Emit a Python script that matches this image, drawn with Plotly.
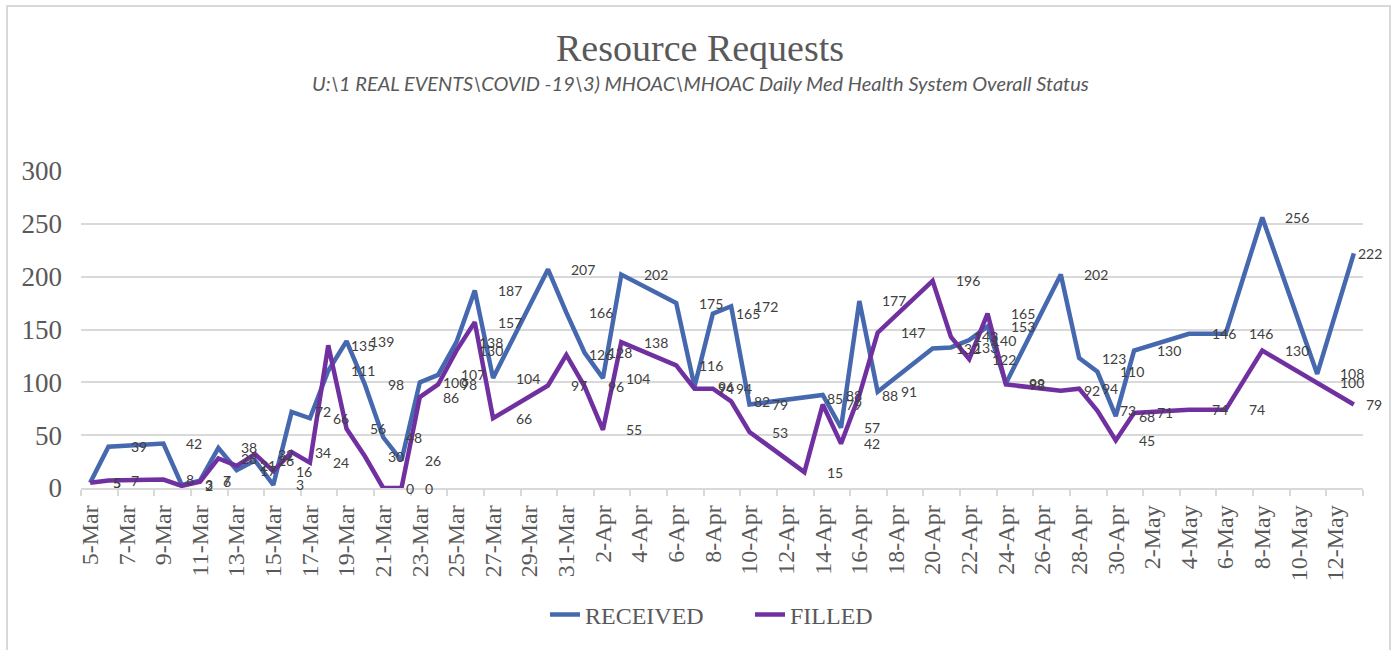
import plotly.graph_objects as go

# ---------------- data ----------------
dates = [
    "2020-03-05", "2020-03-06", "2020-03-09", "2020-03-10", "2020-03-11", "2020-03-12",
    "2020-03-13", "2020-03-14", "2020-03-15", "2020-03-16", "2020-03-17", "2020-03-18",
    "2020-03-19", "2020-03-20", "2020-03-21", "2020-03-22", "2020-03-23", "2020-03-24",
    "2020-03-25", "2020-03-26", "2020-03-27", "2020-03-30", "2020-03-31",
    "2020-04-01", "2020-04-02", "2020-04-03", "2020-04-06", "2020-04-07", "2020-04-08",
    "2020-04-09", "2020-04-10", "2020-04-13", "2020-04-14", "2020-04-15", "2020-04-16",
    "2020-04-17", "2020-04-20", "2020-04-21", "2020-04-22", "2020-04-23", "2020-04-24",
    "2020-04-27", "2020-04-28", "2020-04-29", "2020-04-30",
    "2020-05-01", "2020-05-04", "2020-05-06", "2020-05-08", "2020-05-11", "2020-05-13",
]
received = [
    5, 39, 42, 3, 7, 38, 17, 26, 3, 72, 66, 111, 139, 98, 48, 26, 100, 107, 138, 187, 104, 207, 166,
    128, 104, 202, 175, 96, 165, 172, 79, 85, 88, 57, 177, 91, 132, 133, 140, 153, 99, 202, 123, 110, 68,
    130, 146, 146, 256, 108, 222,
]
filled = [
    5, 7, 8, 2, 6, 28, 21, 32, 16, 34, 24, 135, 56, 30, 0, 0, 86, 98, 130, 157, 66, 97, 126,
    96, 55, 138, 116, 94, 94, 82, 53, 15, 79, 42, 88, 147, 196, 143, 122, 165, 98, 92, 94, 73, 45,
    71, 74, 74, 130, 100, 79,
]
series_names = ["RECEIVED", "FILLED"]
y_ticks = [0, 50, 100, 150, 200, 250, 300]

title_text = "Resource Requests"
subtitle_text = r"U:\1 REAL EVENTS\COVID -19\3) MHOAC\MHOAC Daily Med Health System Overall Status"

# ---------------- layout geometry (pixels) ----------------
W, H = 1395, 650
L, R = 81, 1363
T, B = 171, 488


def paper_x(px):
    return (px - L) / (R - L)


def paper_y(py):
    return (B - py) / (B - T)


BLUE = "#4668AE"
PURPLE = "#7030A0"
GRID = "#d9d9d9"
TXT = "#595959"
SERIF = "Liberation Serif, Times New Roman, serif"
SANS = "Lato, Carlito, Calibri, sans-serif"

fig = go.Figure()
fig.add_trace(go.Scatter(x=dates, y=received, mode="lines", name=series_names[0],
                         line=dict(color=BLUE, width=4.5), hoverinfo="skip"))
fig.add_trace(go.Scatter(x=dates, y=filled, mode="lines", name=series_names[1],
                         line=dict(color=PURPLE, width=4.5), hoverinfo="skip"))

annotations = []
last = dates[-1]
for vals in (received, filled):
    for d, v in zip(dates, vals):
        if d == last:
            anchor, shift = "right", 30
        else:
            anchor, shift = "left", 21
        annotations.append(dict(x=d, y=v, xref="x", yref="y", text=str(v), showarrow=False,
                                xanchor=anchor, yanchor="middle", xshift=shift,
                                font=dict(family=SANS, size=14, color="#404040")))

annotations.append(dict(x=paper_x(699.5), y=paper_y(48), xref="paper", yref="paper",
                        text=title_text, showarrow=False, xanchor="center", yanchor="middle",
                        font=dict(family=SERIF, size=38, color=TXT)))
annotations.append(dict(x=paper_x(700), y=paper_y(83), xref="paper", yref="paper",
                        text="<i>" + subtitle_text + "</i>", showarrow=False,
                        xanchor="center", yanchor="middle",
                        font=dict(family=SANS, size=20, color=TXT)))

fig.update_layout(
    width=W, height=H,
    margin=dict(l=L, r=W - R, t=T, b=H - B, autoexpand=False),
    paper_bgcolor="white", plot_bgcolor="white",
    showlegend=True,
    legend=dict(orientation="h", x=paper_x(545), y=paper_y(615), xanchor="left", yanchor="middle",
                entrywidth=160, entrywidthmode="pixels",
                font=dict(family=SERIF, size=24, color=TXT), bgcolor="rgba(0,0,0,0)"),
    annotations=annotations,
    shapes=[dict(type="rect", xref="paper", yref="paper", x0=paper_x(7), x1=paper_x(1390),
                 y0=paper_y(700), y1=paper_y(6), line=dict(color=GRID, width=2),
                 fillcolor="rgba(0,0,0,0)", layer="below")],
)

day = 86400000
fig.update_xaxes(
    type="date",
    range=["2020-03-04 12:00", "2020-05-13 12:00"],
    tick0="2020-03-05", dtick=2 * day, tickformat="%-d-%b", tickangle=-90,
    ticks="", ticklabelstandoff=6,
    tickfont=dict(family=SERIF, size=24, color=TXT),
    showgrid=False, showline=True, linecolor=GRID, linewidth=1.5,
    minor=dict(ticks="outside", ticklen=6, tickcolor=GRID, tickwidth=1.5,
               tick0="2020-03-04 12:00", dtick=2 * day, showgrid=False),
    zeroline=False,
)
fig.update_yaxes(
    range=[0, 300], tickvals=y_ticks, ticks="", ticklabelstandoff=18,
    tickfont=dict(family=SERIF, size=27, color=TXT),
    showgrid=True, gridcolor=GRID, gridwidth=1.5, zeroline=False, showline=False,
)

fig.write_html("out.html", config={"displayModeBar": False},
               post_script="document.body.style.margin='0';")
